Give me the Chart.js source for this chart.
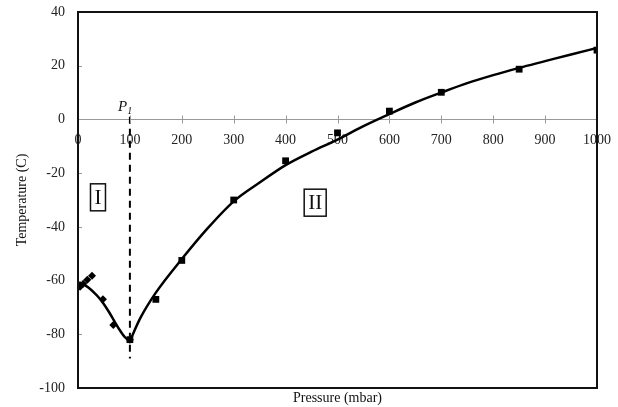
<!DOCTYPE html>
<html>
<head>
<meta charset="utf-8">
<script src="https://cdn.jsdelivr.net/npm/chart.js@4"></script>
<style>
html,body{margin:0;padding:0;background:#fff;}
#wrap{width:618px;height:407px;position:relative;}
</style>
</head>
<body>
<div id="wrap"><canvas id="c" width="618" height="407"></canvas></div>
<script>
// Region II measurements (squares)
const squareP = [100, 150, 200, 300, 400, 500, 600, 700, 850, 1000];
const squareT = [-82, -67, -52.5, -30, -15.4, -5, 3.1, 10.1, 18.7, 25.8];
// Region I measurements (diamonds)
const diamondP = [4, 6, 10, 18, 27, 48, 68, 100];
const diamondT = [-62.3, -61.6, -61.2, -59.7, -58.2, -67, -76.5, -82];
// Fitted curve, region I
const fitIP = [0, 10, 20, 30, 40, 50, 60, 70, 80, 90, 100];
const fitIT = [-60.5, -61.3, -62.6, -64.3, -66.3, -68.8, -71.8, -75.1, -78.3, -81, -82.5];
// Fitted curve, region II
const fitIIP = [100, 120, 150, 200, 250, 300, 350, 400, 450, 500, 550, 600, 650, 700, 750, 800, 850, 900, 950, 1000];
const fitIIT = [-82.5, -74, -64.5, -52, -40.5, -30.5, -23.5, -17, -12, -7.5, -2.5, 2, 6.3, 10, 13.5, 16.5, 19.2, 21.7, 24.2, 26.6];
// Vertical dashed line at P1
const dashP = [100, 100];
const dashT = [1, -89];
// Axis ticks
const xTicks = [0, 100, 200, 300, 400, 500, 600, 700, 800, 900, 1000];
const yTicks = [40, 20, 0, -20, -40, -60, -80, -100];
// Annotations
const regionLabels = [{text: 'I', p: 38.5, t: -29}, {text: 'II', p: 457, t: -31}];
const p1Label = {p: 77, t: 3.3};
const xTitle = 'Pressure (mbar)';
const yTitle = 'Temperature (C)';

const toXY = (xs, ys) => xs.map((x, i) => ({x: x, y: ys[i]}));
const FONT = '"Liberation Serif", "Times New Roman", serif';

const overlay = {
  id: 'overlay',
  afterDraw(chart) {
    const ctx = chart.ctx, a = chart.chartArea;
    const xs = chart.scales.x, ys = chart.scales.y;
    ctx.save();
    // small tick marks on y axis (inside)
    ctx.strokeStyle = '#999'; ctx.lineWidth = 1;
    yTicks.forEach(v => {
      const py = Math.round(ys.getPixelForValue(v)) + 0.5;
      ctx.beginPath(); ctx.moveTo(a.left, py); ctx.lineTo(a.left + 4, py); ctx.stroke();
    });
    // tick marks crossing the zero line
    const y0 = Math.round(ys.getPixelForValue(0)) + 0.5;
    xTicks.forEach(v => {
      const px = Math.round(xs.getPixelForValue(v)) + 0.5;
      ctx.beginPath(); ctx.moveTo(px, y0 - 4); ctx.lineTo(px, y0 + 4); ctx.stroke();
    });
    // frame
    ctx.strokeStyle = '#111'; ctx.lineWidth = 2;
    ctx.strokeRect(a.left, a.top, a.right - a.left, a.bottom - a.top);
    // region labels in boxes
    ctx.font = '21px ' + FONT;
    ctx.textAlign = 'center'; ctx.textBaseline = 'middle';
    regionLabels.forEach(r => {
      const px = xs.getPixelForValue(r.p), py = ys.getPixelForValue(r.t);
      const w = ctx.measureText(r.text).width + 8, h = 27;
      ctx.fillStyle = '#fff';
      ctx.fillRect(px - w / 2, py - h / 2, w, h);
      ctx.strokeStyle = '#111'; ctx.lineWidth = 1.5;
      ctx.strokeRect(px - w / 2, py - h / 2, w, h);
      ctx.fillStyle = '#111';
      ctx.fillText(r.text, px, py + 1);
    });
    // P1 label
    const lx = xs.getPixelForValue(p1Label.p), ly = ys.getPixelForValue(p1Label.t);
    ctx.textAlign = 'left'; ctx.textBaseline = 'alphabetic';
    ctx.font = 'italic 15px ' + FONT;
    ctx.fillText('P', lx, ly);
    const pw = ctx.measureText('P').width;
    ctx.font = 'italic 10px ' + FONT;
    ctx.fillText('1', lx + pw, ly + 3);
    // axis titles
    ctx.fillStyle = '#111';
    ctx.font = '14px ' + FONT;
    ctx.textAlign = 'center'; ctx.textBaseline = 'middle';
    ctx.fillText(xTitle, (a.left + a.right) / 2, 398);
    ctx.translate(22, (a.top + a.bottom) / 2);
    ctx.rotate(-Math.PI / 2);
    ctx.fillText(yTitle, 0, 0);
    ctx.restore();
  }
};

new Chart(document.getElementById('c'), {
  type: 'scatter',
  data: {
    datasets: [
      {label: 'fit I', data: toXY(fitIP, fitIT), showLine: true, borderColor: '#000', borderWidth: 2.5,
       pointRadius: 0, cubicInterpolationMode: 'monotone', order: 3},
      {label: 'fit II', data: toXY(fitIIP, fitIIT), showLine: true, borderColor: '#000', borderWidth: 2.5,
       pointRadius: 0, cubicInterpolationMode: 'monotone', order: 3},
      {label: 'P1', data: toXY(dashP, dashT), showLine: true, borderColor: '#000', borderWidth: 2,
       borderDash: [7, 5], pointRadius: 0, order: 4},
      {label: 'region II', data: toXY(squareP, squareT), pointStyle: 'rect', pointRadius: 4.8,
       backgroundColor: '#000', borderColor: '#000', borderWidth: 0, order: 1},
      {label: 'region I', data: toXY(diamondP, diamondT), pointStyle: 'rectRot', pointRadius: 4,
       backgroundColor: '#000', borderColor: '#000', borderWidth: 0, order: 1}
    ]
  },
  options: {
    responsive: false,
    animation: false,
    events: [],
    layout: {padding: {left: 0, top: 12, right: 21, bottom: 19}},
    plugins: {legend: {display: false}, tooltip: {enabled: false}},
    scales: {
      x: {
        type: 'linear', min: 0, max: 1000,
        position: {y: 0},
        afterBuildTicks: s => { s.ticks = xTicks.map(v => ({value: v})); },
        afterFit: s => { s.paddingLeft = 0; s.paddingRight = 0; },
        grid: {display: false, drawTicks: false},
        border: {display: true, color: '#999', width: 1},
        ticks: {color: '#222', font: {family: FONT, size: 14}, padding: 12, maxRotation: 0,
                callback: v => String(v)}
      },
      y: {
        type: 'linear', min: -100, max: 40,
        afterBuildTicks: s => { s.ticks = yTicks.map(v => ({value: v})); },
        afterFit: s => { s.width = 78; s.paddingTop = 0; s.paddingBottom = 0; },
        grid: {display: false, drawTicks: false},
        border: {display: false},
        ticks: {color: '#222', font: {family: FONT, size: 14}, padding: 13}
      }
    }
  },
  plugins: [overlay]
});
</script>
</body>
</html>
